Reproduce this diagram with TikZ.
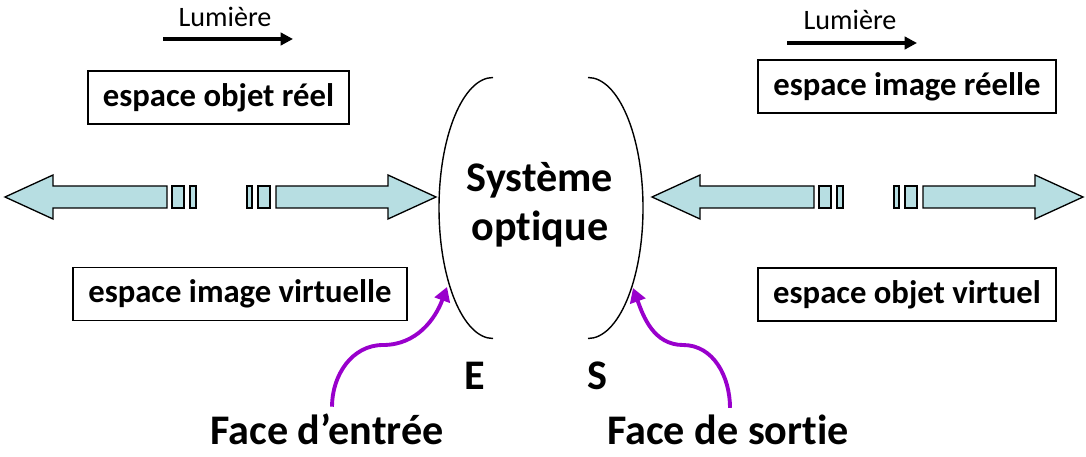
\documentclass[tikz,border=0pt]{standalone}
\usepackage{fontspec}
\setmainfont{Carlito}[Ligatures=NoCommon]
\usetikzlibrary{arrows.meta}
\definecolor{flechebleue}{RGB}{183,222,226}
\definecolor{violet}{RGB}{153,0,204}
\begin{document}
\begin{tikzpicture}[bloc/.style={fill=flechebleue,draw=black,line width=0.75pt},
  espace/.style={draw,line width=0.8pt,minimum height=1.06cm,inner sep=0pt,font=\bfseries\fontsize{18.6}{21}\selectfont},
  lumiere/.style={line width=2pt,-{Triangle[length=7pt,width=7pt]}},
  face/.style={violet,line width=2.2pt,-{Triangle[length=8pt,width=9pt]}}]
\useasboundingbox (0,0) rectangle (21.72,9.12);
% fleches bleues
\foreach \dx in {0,12.94} {
\begin{scope}[xshift=\dx cm]
\draw[bloc] (0.10,5.18) -- (1.06,5.62) -- (1.06,5.40) -- (3.34,5.40) -- (3.34,4.96) -- (1.06,4.96) -- (1.06,4.74) -- cycle;
\draw[bloc] (3.44,4.96) rectangle (3.68,5.40);
\draw[bloc] (3.80,4.96) rectangle (3.92,5.40);
\draw[bloc] (4.94,4.96) rectangle (5.04,5.40);
\draw[bloc] (5.16,4.96) rectangle (5.40,5.40);
\draw[bloc] (8.72,5.18) -- (7.76,5.62) -- (7.76,5.40) -- (5.52,5.40) -- (5.52,4.96) -- (7.76,4.96) -- (7.76,4.74) -- cycle;
\end{scope}
}
% systeme optique
\draw[line width=0.8pt] (9.86,7.57) arc[start angle=90,end angle=270,x radius=1.08,y radius=2.61];
\draw[line width=0.8pt] (11.76,7.57) arc[start angle=90,end angle=-90,x radius=1.10,y radius=2.61];
\node[align=center,font=\bfseries\fontsize{24}{28}\selectfont] (systeme) at (10.80,5.02) {Système\\optique};
\node[anchor=base,font=\bfseries\fontsize{24}{28}\selectfont] (E) at (9.50,1.34) {E};
\node[anchor=base,font=\bfseries\fontsize{24}{28}\selectfont] (S) at (11.94,1.34) {S};
% espaces
\node[espace,minimum width=5.22cm] (objreel) at (4.37,7.17) {espace objet réel};
\node[espace,minimum width=5.96cm] (imreel) at (18.14,7.39) {espace image réelle};
\node[espace,minimum width=6.68cm] (imvirt) at (4.80,3.24) {espace image virtuelle};
\node[espace,minimum width=5.96cm] (objvirt) at (18.14,3.23) {espace objet virtuel};
% lumiere
\node[font=\fontsize{16}{19}\selectfont] (lum1) at (4.50,8.78) {Lumière};
\node[font=\fontsize{16}{19}\selectfont] (lum2) at (17.00,8.72) {Lumière};
\coordinate (l1a) at (3.26,8.34);
\coordinate (l1b) at (5.86,8.34);
\coordinate (l2a) at (15.74,8.26);
\coordinate (l2b) at (18.34,8.26);
\draw[lumiere] (l1a) -- (l1b);
\draw[lumiere] (l2a) -- (l2b);
% faces
\node[anchor=base,inner ysep=1pt,font=\bfseries\fontsize{24}{28}\selectfont] (entree) at (6.54,0.24) {Face d’entrée};
\node[anchor=base,inner ysep=1pt,font=\bfseries\fontsize{24}{28}\selectfont] (sortie) at (14.56,0.24) {Face de sortie};
\coordinate (pE) at (8.94,3.38);
\coordinate (pS) at (12.66,3.36);
\draw[face] ([xshift=0.1cm,yshift=0.09cm]entree.north) to[out=90,in=180] (7.66,2.22) to[out=0,in=250] (pE);
\draw[face] ([xshift=0.04cm,yshift=0.09cm]sortie.north) to[out=90,in=0] (13.66,2.22) to[out=180,in=-70] (pS);
\end{tikzpicture}
\end{document}
